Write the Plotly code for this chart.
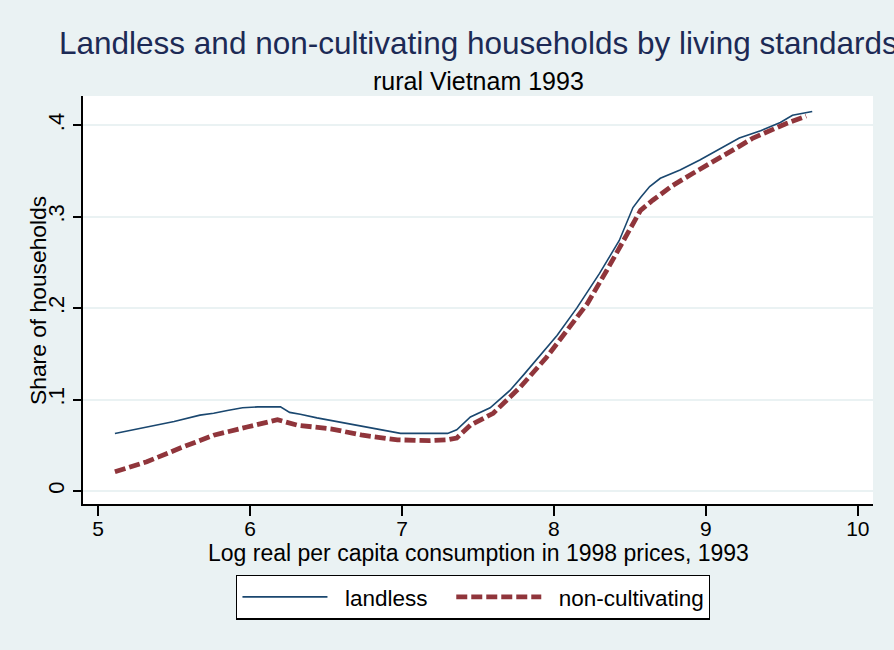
import plotly.graph_objects as go

# Data
landless_x = [5.11, 5.30, 5.50, 5.67, 5.76, 5.85, 5.95, 6.05, 6.20, 6.26, 6.33, 6.44, 6.54, 6.64,
              6.81, 6.99, 7.15, 7.30, 7.36, 7.45, 7.58, 7.71, 7.80, 7.89, 8.02, 8.15, 8.30, 8.43,
              8.52, 8.57, 8.63, 8.70, 8.83, 8.96, 9.09, 9.22, 9.36, 9.49, 9.57, 9.70]
landless_y = [0.063, 0.069, 0.076, 0.083, 0.085, 0.088, 0.091, 0.092, 0.092, 0.086, 0.084, 0.080,
              0.077, 0.074, 0.069, 0.063, 0.063, 0.063, 0.067, 0.081, 0.091, 0.110, 0.127, 0.145,
              0.170, 0.200, 0.238, 0.274, 0.310, 0.321, 0.333, 0.342, 0.351, 0.362, 0.374, 0.386,
              0.394, 0.403, 0.411, 0.415]

noncult_x = [5.11, 5.32, 5.54, 5.76, 5.98, 6.10, 6.18, 6.31, 6.53, 6.74, 6.97, 7.18, 7.30, 7.36,
             7.45, 7.60, 7.78, 7.95, 8.09, 8.22, 8.35, 8.48, 8.57, 8.65, 8.78, 8.91, 9.05, 9.18,
             9.31, 9.44, 9.53, 9.66]
noncult_y = [0.021, 0.032, 0.047, 0.061, 0.070, 0.074, 0.078, 0.072, 0.068, 0.061, 0.056, 0.055,
             0.056, 0.058, 0.072, 0.085, 0.114, 0.146, 0.176, 0.205, 0.242, 0.282, 0.307, 0.318,
             0.334, 0.347, 0.360, 0.373, 0.386, 0.396, 0.402, 0.410]

x_ticks = [5, 6, 7, 8, 9, 10]
y_ticks = [0, 0.1, 0.2, 0.3, 0.4]
y_tick_labels = ["0", ".1", ".2", ".3", ".4"]

FONT = "Liberation Sans, Arial, sans-serif"
BG = "#EAF2F3"
NAVY = "#1A476F"
MAROON = "#90353B"
NB = "\u00a0"

fig = go.Figure()
fig.add_trace(go.Scatter(x=landless_x, y=landless_y, mode="lines",
                         name=NB * 2 + "landless" + NB * 3,
                         line=dict(color=NAVY, width=1.6)))
fig.add_trace(go.Scatter(x=noncult_x, y=noncult_y, mode="lines",
                         name=NB * 2 + "non-cultivating",
                         line=dict(color=MAROON, width=4.8, dash="11px,4px")))

fig.update_layout(
    width=894, height=650,
    paper_bgcolor=BG, plot_bgcolor="white",
    margin=dict(l=83, r=21, t=96, b=146),
    font=dict(family=FONT, color="black", size=22),
    showlegend=True,
    legend=dict(orientation="h", x=0.494, xanchor="center", y=-0.173, yanchor="top",
                bgcolor="white", bordercolor="black", borderwidth=1.2,
                font=dict(size=22.5, family=FONT, color="black"), itemwidth=85),
    xaxis=dict(range=[4.90, 10.10], tickvals=x_ticks, showgrid=False, zeroline=False,
               showline=True, linecolor="black", linewidth=1.5,
               ticks="outside", ticklen=10, tickwidth=1.5, tickcolor="black",
               ticklabelstandoff=-5,
               tickfont=dict(size=21, family=FONT)),
    yaxis=dict(range=[-0.0142, 0.432], tickvals=y_ticks, ticktext=y_tick_labels,
               tickangle=-90, showgrid=True, gridcolor=BG, gridwidth=1.5, zeroline=False,
               showline=True, linecolor="black", linewidth=1.5,
               ticks="outside", ticklen=8, tickwidth=1.5, tickcolor="black",
               tickfont=dict(size=22, family=FONT)),
    annotations=[
        dict(text="Landless and non-cultivating households by living standards",
             xref="paper", yref="paper", x=0.5, y=1.13, xanchor="center", yanchor="middle",
             showarrow=False, font=dict(size=31.5, color="#1C2A55", family=FONT)),
        dict(text="rural Vietnam 1993",
             xref="paper", yref="paper", x=0.5, y=1.037, xanchor="center", yanchor="middle",
             showarrow=False, font=dict(size=25, color="black", family=FONT)),
        dict(text="Log real per capita consumption in 1998 prices, 1993",
             xref="paper", yref="paper", x=0.5, y=-0.12, xanchor="center", yanchor="middle",
             showarrow=False, font=dict(size=23, color="black", family=FONT)),
        dict(text="Share of households", textangle=-90,
             xref="paper", yref="paper", x=-0.057, y=0.5, xanchor="center", yanchor="middle",
             showarrow=False, font=dict(size=22.8, color="black", family=FONT)),
    ],
)

fig.write_html("out.html", config={"displayModeBar": False},
               post_script="document.body.style.margin='0';document.body.style.background='#EAF2F3';")
